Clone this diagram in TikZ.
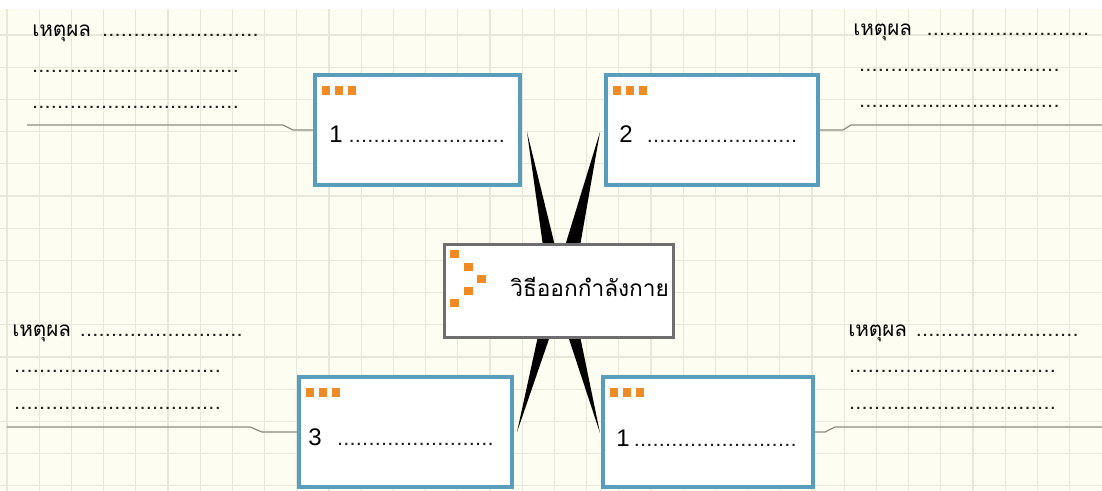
\documentclass[tikz,border=0pt]{standalone}
\usepackage{fontspec}
\setmainfont{Liberation Sans}
\newfontfamily\thai[Script=Thai]{Loma}
\usetikzlibrary{calc}
\pgfdeclarelayer{bg}\pgfdeclarelayer{mid}\pgfsetlayers{bg,mid,main}
\definecolor{cream}{RGB}{253,253,241}
\definecolor{gridc}{RGB}{232,232,218}
\definecolor{boxblue}{RGB}{88,158,188}
\definecolor{orng}{RGB}{240,138,36}
\definecolor{cgray}{RGB}{110,110,110}
\definecolor{conn}{RGB}{140,140,128}
\definecolor{dotc}{RGB}{30,30,30}
\newcommand\dl[1]{\hbox to #1{\rmfamily\bfseries\fontsize{11}{13}\selectfont\color{dotc}\leaders\hbox to 4.7pt{\hss.\hss}\hfill}}
\newcommand\orsq[1]{\foreach \dx in {9,22,35}{\fill[orng] ($(#1.north west)+(\dx,13)$) rectangle ++(8,9);}}
\begin{document}
\begin{tikzpicture}[x=0.75pt,y=-0.75pt,
  numbox/.style={draw=boxblue,line width=3pt,fill=white,inner sep=0,minimum width={#1*0.75pt},minimum height={110*0.75pt}},
  centbox/.style={draw=cgray,line width=2.25pt,fill=white,inner sep=0,minimum width={229*0.75pt},minimum height={93*0.75pt}},
  txt/.style={inner sep=0,anchor=base west,font=\thai\fontsize{15.5}{17}\selectfont},
  txte/.style={txt,anchor=base east,font=\thai\fontsize{14}{16}\selectfont},
  numtxt/.style={inner sep=0,anchor=base west,font=\fontsize{18}{20}\selectfont},
  conline/.style={draw=conn,line width=0.9pt},
  wedge/.style={fill=black}]
\useasboundingbox (0,0) rectangle (1102,491);
\begin{pgfonlayer}{bg}
  \fill[cream] (0,0) rectangle (1102,491);
  \foreach \i in {0,...,33}{\draw[gridc,line width=0.8pt] ({7+32.2*\i},0) -- ({7+32.2*\i},491);}
  \foreach \j in {0,...,15}{\draw[gridc,line width=0.8pt] (0,{2.8+32.2*\j}) -- (1102,{2.8+32.2*\j});}
  \fill[white] (0,0) rectangle (1102,9);
\end{pgfonlayer}

% boxes
\node[numbox=205] (b1) at (417.5,130) {};
\node[numbox=212] (b2) at (712,130) {};
\node[numbox=213] (b3) at (405.5,432) {};
\node[numbox=210] (b4) at (708,432) {};
\node[centbox] (c) at (559,291) {};

\orsq{b1}\orsq{b2}\orsq{b3}\orsq{b4}
\foreach \a/\b in {7/7,21/20,34/32,21/44,7/56}{\fill[orng] ($(c.north west)+(\a,\b)$) rectangle ++(9,8);}

% box texts
\node[numtxt] (n1) at (329,143) {1};
\node[txte] (d1) at (506,143) {\dl{118pt}};
\node[numtxt] (n2) at (619,143) {2};
\node[txte] (d2) at (803,143) {\dl{117pt}};
\node[numtxt] (n3) at (308,445) {3};
\node[txte] (d3) at (496,445) {\dl{119pt}};
\node[numtxt] (n4) at (616,446) {1};
\node[txte] (d4) at (798,446) {\dl{123pt}};
\node[inner sep=0,anchor=base west,font=\thai\fontsize{17}{19}\selectfont] (ct) at (510,297) {วิธีออกกำลังกาย};

% reason texts
\node[txt] (ra1) at (32,37) {เหตุผล};
\node[txte] (ra1d) at (265,37) {\dl{122pt}};
\node[txte] (ra2) at (243,73) {\dl{158pt}};
\node[txte] (ra3) at (243,109) {\dl{158pt}};
\node[txt] (rb1) at (853,36) {เหตุผล};
\node[txte] (rb1d) at (1092,36) {\dl{124pt}};
\node[txte] (rb2) at (1066,72) {\dl{155pt}};
\node[txte] (rb3) at (1066,108) {\dl{155pt}};
\node[txt] (rc1) at (12,337) {เหตุผล};
\node[txte] (rc1d) at (248,337) {\dl{126pt}};
\node[txte] (rc2) at (225,373) {\dl{158pt}};
\node[txte] (rc3) at (225,409) {\dl{158pt}};
\node[txt] (rd1) at (848,337) {เหตุผล};
\node[txte] (rd1d) at (1084,337) {\dl{126pt}};
\node[txte] (rd2) at (1060,373) {\dl{158pt}};
\node[txte] (rd3) at (1060,409) {\dl{158pt}};

\coordinate (e1) at (27,125);
\coordinate (e2) at (1102,125);
\coordinate (e3) at (7,427);
\coordinate (e4) at (1102,427);

\begin{pgfonlayer}{mid}
  \fill[wedge] ($(b1.east)+(5,2)$) -- ($(c.north)+(-16,3)$) -- ($(c.north)+(-4,3)$) -- cycle;
  \fill[wedge] ($(b2.west)+(-4,2)$) -- ($(c.north)+(6,3)$) -- ($(c.north)+(21,3)$) -- cycle;
  \fill[wedge] ($(b3.east)+(3,0)$) -- ($(c.south)+(-21,-3)$) -- ($(c.south)+(-9,-3)$) -- cycle;
  \fill[wedge] ($(b4.west)+(-1,1)$) -- ($(c.south)+(9,-3)$) -- ($(c.south)+(21,-3)$) -- cycle;
  \draw[conline] (e1) -- (283,125) -- (293,130) -- (b1.west);
  \draw[conline] (b2.east) -- (843,130) -- (851,125) -- (e2);
  \draw[conline] (e3) -- (250,427) -- (262,432) -- (b3.west);
  \draw[conline] (b4.east) -- (825,432) -- (835,427) -- (e4);
\end{pgfonlayer}
\end{tikzpicture}
\end{document}
